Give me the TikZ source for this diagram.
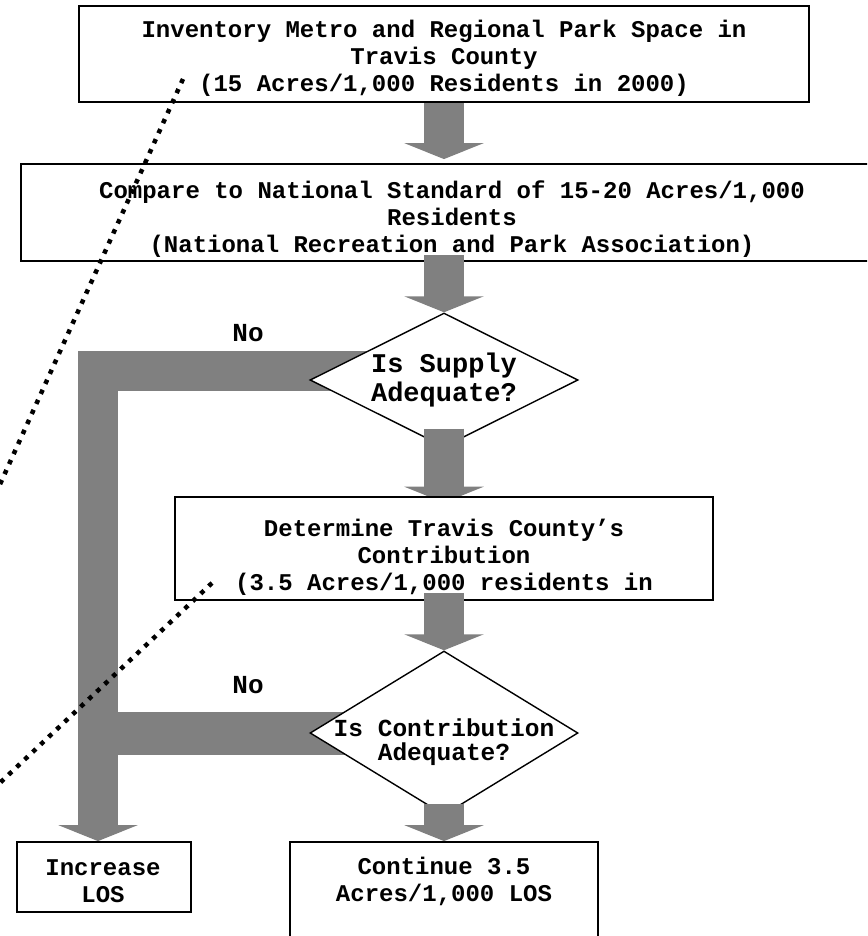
\documentclass[tikz,border=0pt]{standalone}
\usepackage{fontspec}
\setmonofont{Liberation Mono}
\usetikzlibrary{shapes.geometric,arrows.meta,calc}
\definecolor{bandgray}{HTML}{808080}
\begin{document}
\begin{tikzpicture}[x=1pt,y=-1pt,
  box/.style={draw=black, line width=1.8pt, fill=white, rectangle, inner sep=0pt},
  dia/.style={draw=black, line width=1.4pt, fill=white, diamond, inner sep=0pt},
  txt/.style={font=\ttfamily\bfseries\fontsize{24}{27}\selectfont, align=center, inner sep=0pt},
  band/.style={draw=bandgray, line width=40pt, line join=miter},
  blk/.style={draw=bandgray, line width=40pt, -{Triangle[width=79pt,length=16pt]}},
  dots/.style={line width=4.5pt, dash pattern=on 4.5pt off 6.5pt}
]
\useasboundingbox (0,0) rectangle (867,936);
\clip (0,0) rectangle (867,936);

\coordinate (vx) at (98,0);

% invisible placeholders so the bands can refer to the shapes
\path (444,380) node[dia, minimum width=268pt, minimum height=134pt, draw=none, fill=none] (d1) {};
\path (444,733) node[dia, minimum width=268pt, minimum height=164pt, draw=none, fill=none] (d2) {};
\path (104,877) node[box, minimum width=174pt, minimum height=70pt, draw=none, fill=none] (inc) {};

% gray "No" bands
\draw[band, -{Triangle[width=79pt,length=16pt]}] ($(d1.center)+(0,-9)$) -| ($(inc.north)+(-6,0)$);
\draw[band, line width=43pt] (d2.center) -- (d2.center -| vx);

% diamonds
\node[dia, minimum width=268pt, minimum height=134pt] (d1b) at (d1) {};
\node[dia, minimum width=268pt, minimum height=164pt] (d2b) at (d2) {};

% arrow into box 3 (tip hidden under the box)
\draw[blk] ($(d1.south)+(0,-19)$) -- ($(d1.south)+(0,55)$);

% boxes
\node[box, minimum width=730pt, minimum height=96pt] (top) at (444,54) {};
\node[box, minimum width=862pt, minimum height=97pt] (cmp) at (452,212.5) {};
\node[box, minimum width=538pt, minimum height=103pt] (det) at (444,548.5) {};
\node[box, minimum width=174pt, minimum height=70pt] (incb) at (inc) {};
\node[box, minimum width=308pt, minimum height=118pt] (cont) at (444,901) {};

% block arrows
\draw[blk] (top.south) -- ($(top.south |- cmp.north)+(0,-4)$);
\draw[blk] ($(d1.north |- cmp.south)+(0,-7)$) -- (d1.north);
\draw[blk] ($(det.south)+(0,-8)$) -- (d2.north);
\draw[blk] ($(d2.south)+(0,-12)$) -- (cont.north);

% texts
\node[txt] (t1) at (444,58.5) {Inventory Metro and Regional Park Space in\\Travis County\\(15 Acres/1,000 Residents in 2000)};
\node[txt] (t2) at (452,219) {Compare to National Standard of 15-20 Acres/1,000\\Residents\\(National Recreation and Park Association)};
\node[txt, font=\ttfamily\bfseries\fontsize{27}{29}\selectfont] (t3) at (444,380) {Is Supply\\Adequate?};
\node[txt] (t4) at (444,557) {Determine Travis County’s\\Contribution\\(3.5 Acres/1,000 residents in};
\node[txt, font=\ttfamily\bfseries\fontsize{24.5}{24}\selectfont] (t5) at (444,742.5) {Is Contribution\\Adequate?};
\node[txt, font=\ttfamily\bfseries\fontsize{26}{26}\selectfont] (no1) at (248,333) {No};
\node[txt, font=\ttfamily\bfseries\fontsize{26}{26}\selectfont] (no2) at (248,685) {No};
\node[txt] (t6) at (103,881) {Increase\\LOS};
\node[txt] (t7) at (444,881) {Continue 3.5\\Acres/1,000 LOS};

% dotted lines
\coordinate (p1) at (183,79);
\coordinate (p2) at (-8,502);
\coordinate (q1) at (212,583);
\coordinate (q2) at (-5,787.5);
\draw[dots] (p1) -- (p2);
\draw[dots] (q1) -- (q2);
\end{tikzpicture}
\end{document}
